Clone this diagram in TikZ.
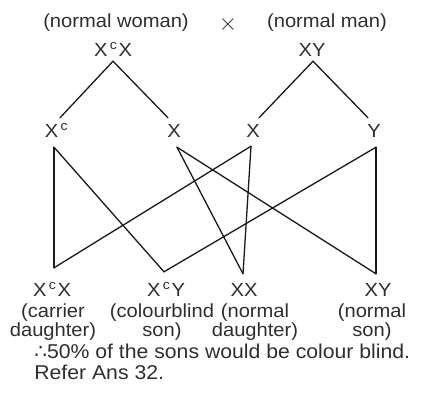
\documentclass[tikz,border=0pt]{standalone}
\usepackage{fontspec}
\setmainfont{Liberation Sans}[FakeStretch=1.06]
\newfontfamily\symfont{DejaVu Sans}
\usetikzlibrary{positioning}
\tikzset{
  gtext/.style={inner sep=0pt, text=black!82, font=\fontsize{9.5}{9.5}\selectfont},
  gene/.style={gtext, text height=6.8pt, text depth=0pt},
  gdesc/.style={gtext, align=center, font=\fontsize{9.5}{9.2}\selectfont},
  gline/.style={line width=0.65pt, black!90, line cap=round},
}
\newcommand{\Xc}{X\kern1.2pt\textsuperscript{c}\kern0.3pt}

\begin{document}
\begin{tikzpicture}[x=0.5pt, y=-0.5pt]
\useasboundingbox (0,0) rectangle (422,407);
% parents
\node[gtext] (woman) at (116,23) {(normal woman)};
\node[gtext, font=\fontsize{12}{12}\selectfont] (cross) at (228,24) {$\times$};
\node[gtext] (man)   at (327,23) {(normal man)};
\node[gene] (pm) at (113,50) {\Xc X};
\node[gene] (pf) at (312,50) {XY};
% gametes
\node[gene] (gxc) at (57,131)  {\Xc};
\node[gene] (gxm) at (174,131) {X};
\node[gene] (gxf) at (253,131) {X};
\node[gene] (gy)  at (374,131) {Y};
% offspring
\node[gene] (oxcx) at (52,290)  {\Xc X};
\node[gene] (oxcy) at (166,290) {\Xc Y};
\node[gene] (oxx)  at (244,290) {XX};
\node[gene] (oxy)  at (378,290) {XY};
\node[gdesc] (dxcx) at (53,322)  {(carrier\\daughter)};
\node[gdesc] (dxcy) at (162,322) {(colourblind\\son)};
\node[gdesc] (dxx)  at (255,322) {(normal\\daughter)};
\node[gdesc] (dxy)  at (372,322) {(normal\\son)};
% note
\node[gtext, anchor=west, align=left, font=\fontsize{10}{10.5}\selectfont] (note) at (34,362)
  {{\symfont∴}50\% of the sons would be colour blind.\\Refer Ans 32.};
% meiosis
\draw[gline] ([yshift=-2pt]pm.south) -- ([shift={(1.5pt,3pt)}]gxc.north);
\draw[gline] ([yshift=-2pt]pm.south) -- ([shift={(-3pt,3pt)}]gxm.north);
\draw[gline] ([shift={(0.5pt,-2pt)}]pf.south) -- ([shift={(3pt,3pt)}]gxf.north);
\draw[gline] ([shift={(0.5pt,-2pt)}]pf.south) -- ([shift={(-3pt,3pt)}]gy.north);
% fertilisation
\draw[gline] ([shift={(-1.5pt,-4.5pt)}]gxc.south) -- ([shift={(1pt,7.5pt)}]oxcx.north);
\draw[gline] ([shift={(-1.5pt,-4.5pt)}]gxc.south) -- ([shift={(-1pt,5.5pt)}]oxcy.north);
\draw[gline] ([shift={(1.5pt,-4.5pt)}]gxm.south) -- ([shift={(-0.5pt,4.5pt)}]oxx.north);
\draw[gline] ([shift={(1.5pt,-4.5pt)}]gxm.south) -- ([shift={(-1pt,4.5pt)}]oxy.north);
\draw[gline] ([shift={(-1pt,-4pt)}]gxf.south) -- ([shift={(1pt,7.5pt)}]oxcx.north);
\draw[gline] ([shift={(-1pt,-4pt)}]gxf.south) -- ([shift={(-0.5pt,4.5pt)}]oxx.north);
\draw[gline] ([shift={(1pt,-4.5pt)}]gy.south) -- ([shift={(-1pt,5.5pt)}]oxcy.north);
\draw[gline] ([shift={(1pt,-4.5pt)}]gy.south) -- ([shift={(-1pt,4.5pt)}]oxy.north);
\end{tikzpicture}
\end{document}
